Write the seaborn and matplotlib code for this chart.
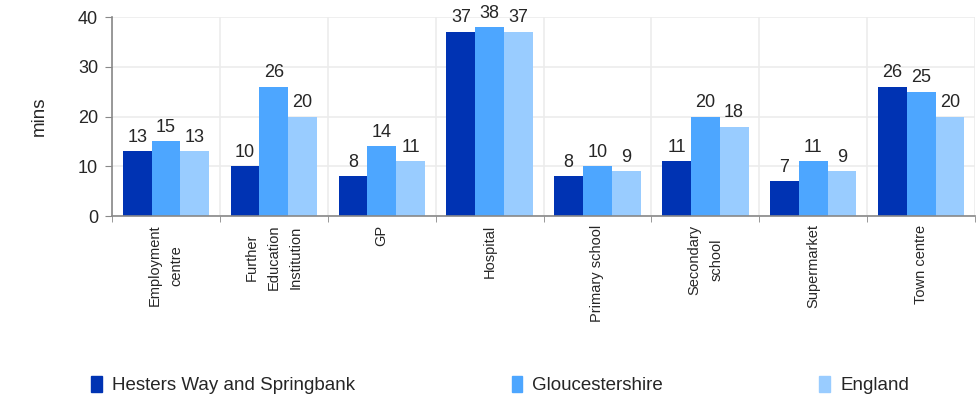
import numpy as np
import pandas as pd
import matplotlib.pyplot as plt
import seaborn as sns
from matplotlib.ticker import FixedLocator

# Travel time (mins) to key services
categories = ['Employment\ncentre', 'Further\nEducation\nInstitution', 'GP', 'Hospital',
              'Primary school', 'Secondary\nschool', 'Supermarket', 'Town centre']
hesters = [13, 10, 8, 37, 8, 11, 7, 26]
glos = [15, 26, 14, 38, 10, 20, 11, 25]
england = [13, 20, 11, 37, 9, 18, 9, 20]
series = ['Hesters Way and Springbank', 'Gloucestershire', 'England']
colors = ['#0033B3', '#4DA6FF', '#99CCFF']

df = pd.DataFrame({
    'cat': categories * 3,
    'val': hesters + glos + england,
    'area': [series[0]] * 8 + [series[1]] * 8 + [series[2]] * 8,
})

sns.set_style('white')
plt.rcParams['font.family'] = ['Liberation Sans', 'DejaVu Sans']

fig = plt.figure(figsize=(9.78, 3.98), dpi=100)
ax = fig.add_axes([0.1145, 0.457, 0.8825, 0.5])

sns.barplot(data=df, x='cat', y='val', hue='area', palette=colors,
            width=0.8, saturation=1, linewidth=0, ax=ax, legend=False)

for cont in ax.containers:
    ax.bar_label(cont, fmt='%d', padding=4, fontsize=13)

ax.set_ylim(0, 40)
ax.set_xlim(-0.5, len(categories) - 0.5)
ax.set_yticks([0, 10, 20, 30, 40])
ax.tick_params(axis='y', labelsize=13, length=5, color='#888888', direction='out', left=True, pad=5)
ax.set_xticks(range(len(categories)))
ax.set_xticklabels(categories, rotation=90, fontsize=10.5, ha='center', va='top',
                   multialignment='center', linespacing=1.7)
ax.tick_params(axis='x', which='major', length=0, pad=6)
ax.xaxis.set_minor_locator(FixedLocator(np.arange(-0.5, len(categories), 1.0)))
ax.tick_params(axis='x', which='minor', length=4, color='#888888', direction='out', bottom=True)

ax.grid(axis='y', color='#ececec', linewidth=1.2)
ax.grid(axis='x', which='minor', color='#ececec', linewidth=1.2)
ax.set_axisbelow(True)

for s in ['top', 'right']:
    ax.spines[s].set_visible(False)
for s in ['left', 'bottom']:
    ax.spines[s].set_color('#888888')
    ax.spines[s].set_linewidth(1.2)

ax.set_xlabel('')
ax.set_ylabel('mins', fontsize=13.5, labelpad=22)

handles = [plt.Rectangle((0, 0), 1, 1, color=c) for c in colors]
fig.legend(handles, series, loc='center left', bbox_to_anchor=(0.076, 0.032), ncol=3,
           frameon=False, fontsize=13.5, handlelength=0.55, handleheight=0.9,
           handletextpad=0.55, columnspacing=8.35)

fig.savefig('out.png', dpi=100)
